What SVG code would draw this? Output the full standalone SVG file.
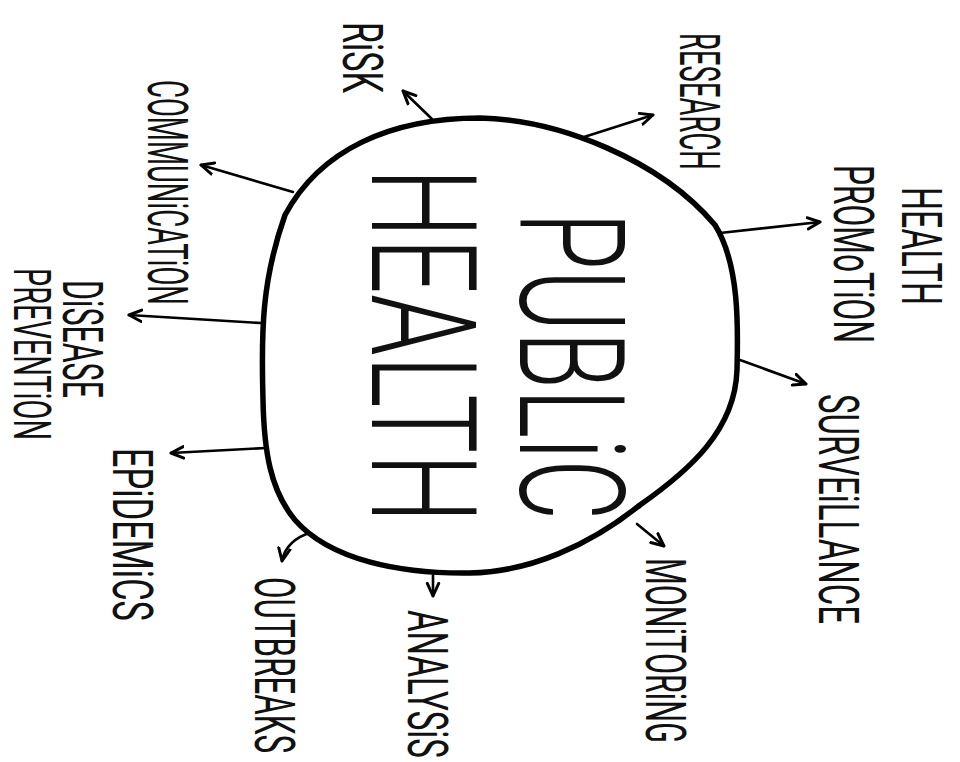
<svg xmlns="http://www.w3.org/2000/svg" width="960" height="762" viewBox="0 0 960 762">
<style>
.lbl{font-family:Roboto,"Liberation Sans Narrow","DejaVu Sans",sans-serif;font-weight:400;font-size:30px;fill:#111}
.big{font-family:Roboto,"Liberation Sans",sans-serif;font-weight:300;font-size:92px;fill:#111}
.blob{fill:#fff;stroke:#000;stroke-width:5.5;stroke-linejoin:round}
.con{fill:none;stroke:#000;stroke-width:2.6;stroke-linecap:round}
</style>
<defs>
<marker id="ah" markerWidth="16" markerHeight="16" refX="12" refY="6" orient="auto" markerUnits="userSpaceOnUse" viewBox="0 0 14 12">
<path d="M1,1 L12,6 L1,11" fill="none" stroke="#000" stroke-width="2.6" stroke-linecap="round" stroke-linejoin="round"/>
</marker>
</defs>
<rect width="960" height="762" fill="#fff"/>
<g id="connectors">
<path class="con" d="M432,119 L403,91" marker-end="url(#ah)"/>
<path class="con" d="M584,137 L653,115" marker-end="url(#ah)"/>
<path class="con" d="M720,233 L820,222" marker-end="url(#ah)"/>
<path class="con" d="M740,360 L806,384" marker-end="url(#ah)"/>
<path class="con" d="M637,524 L664,546" marker-end="url(#ah)"/>
<path class="con" d="M433,573 L433,596" marker-end="url(#ah)"/>
<path class="con" d="M312,532 Q286,540 282,561" marker-end="url(#ah)"/>
<path class="con" d="M266,448 L171,453" marker-end="url(#ah)"/>
<path class="con" d="M261,323 L129,315" marker-end="url(#ah)"/>
<path class="con" d="M293,192 L201,165" marker-end="url(#ah)"/>
</g>
<g id="public-health">
<path class="blob" d="M480,118 C560,120 660,160 715,225 C740,265 738,330 737,370 C735,430 690,470 640,505 C590,545 530,572 470,573 C400,574 330,560 295,520 C270,490 264,450 263,400 C261,330 262,280 285,215 C320,150 390,118 480,118 Z"/>
<text class="big" transform="translate(520,212) rotate(90) scale(1,1.6)" textLength="308" lengthAdjust="spacingAndGlyphs">PUBLiC</text>
<text class="big" transform="translate(372,168) rotate(90) scale(1,1.6)" textLength="355" lengthAdjust="spacingAndGlyphs">HEALTH</text>
</g>
<g id="risk"><text class="lbl" transform="translate(343,22) rotate(90) scale(1,1.87)" textLength="71" lengthAdjust="spacingAndGlyphs">RiSK</text></g>
<g id="research"><text class="lbl" transform="translate(680,33) rotate(90) scale(1,1.87)" textLength="137" lengthAdjust="spacingAndGlyphs">RESEARCH</text></g>
<g id="health-promotion">
<text class="lbl" transform="translate(902,187) rotate(90) scale(1,1.87)" textLength="118" lengthAdjust="spacingAndGlyphs">HEALTH</text>
<text class="lbl" transform="translate(834,165) rotate(90) scale(1,1.87)" textLength="178" lengthAdjust="spacingAndGlyphs">PROMoTiON</text>
</g>
<g id="surveillance"><text class="lbl" transform="translate(819,394) rotate(90) scale(1,1.87)" textLength="230" lengthAdjust="spacingAndGlyphs">SURVEiLLANCE</text></g>
<g id="monitoring"><text class="lbl" transform="translate(646,558) rotate(90) scale(1,1.87)" textLength="185" lengthAdjust="spacingAndGlyphs">MONiTORiNG</text></g>
<g id="analysis"><text class="lbl" transform="translate(408,610) rotate(90) scale(1,1.87)" textLength="148" lengthAdjust="spacingAndGlyphs">ANALYSiS</text></g>
<g id="outbreaks"><text class="lbl" transform="translate(255,577) rotate(90) scale(1,1.87)" textLength="176" lengthAdjust="spacingAndGlyphs">OUTBREAKS</text></g>
<g id="epidemics"><text class="lbl" transform="translate(113,448) rotate(90) scale(1,1.87)" textLength="173" lengthAdjust="spacingAndGlyphs">EPiDEMiCS</text></g>
<g id="disease-prevention">
<text class="lbl" transform="translate(63,280) rotate(90) scale(1,1.87)" textLength="118" lengthAdjust="spacingAndGlyphs">DiSEASE</text>
<text class="lbl" transform="translate(14,268) rotate(90) scale(1,1.75)" textLength="172" lengthAdjust="spacingAndGlyphs">PREVENTiON</text>
</g>
<g id="communication"><text class="lbl" transform="translate(148,80) rotate(90) scale(1,1.87)" textLength="225" lengthAdjust="spacingAndGlyphs">COMMUNiCATiON</text></g>
</svg>
